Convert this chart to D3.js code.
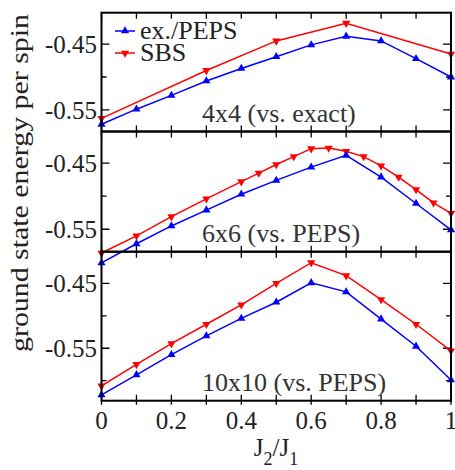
<!DOCTYPE html>
<html>
<head>
<meta charset="utf-8">
<script src="https://cdn.jsdelivr.net/npm/d3@7"></script>
<style>
  body { margin: 0; background: #fff; }
  svg { display: block; }
  svg text { font-family: "Liberation Serif", "Times New Roman", Times, serif; }
</style>
</head>
<body>
<div id="chart"></div>
<script>
const width = 455;
const height = 470;

// J2/J1 values
const jGrid = [0, 0.1, 0.2, 0.3, 0.4, 0.5, 0.6, 0.7, 0.8, 0.9, 1];
const jSbs4 = [0, 0.3, 0.5, 0.7, 1];
const jSbs6 = [0, 0.1, 0.2, 0.3, 0.4, 0.45, 0.5, 0.55, 0.6, 0.65, 0.7, 0.75, 0.8, 0.85, 0.9, 0.95, 1];

// ground state energy per spin
const peps4 = [-0.572, -0.549, -0.528, -0.506, -0.487, -0.469, -0.451, -0.438, -0.445, -0.472, -0.500];
const sbs4 = [-0.563, -0.490, -0.445, -0.418, -0.465];
const peps6 = [-0.601, -0.572, -0.545, -0.521, -0.497, -0.476, -0.456, -0.438, -0.471, -0.511, -0.551];
const sbs6 = [-0.586, -0.560, -0.531, -0.504, -0.478, -0.465, -0.452, -0.440, -0.428, -0.427, -0.432, -0.440, -0.454, -0.471, -0.490, -0.510, -0.526];
const peps10 = [-0.622, -0.591, -0.560, -0.531, -0.504, -0.479, -0.449, -0.463, -0.505, -0.547, -0.599];
const sbs10 = [-0.608, -0.575, -0.543, -0.513, -0.483, -0.450, -0.418, -0.438, -0.475, -0.513, -0.554];

const panelLabels = ["4x4 (vs. exact)", "6x6 (vs. PEPS)", "10x10 (vs. PEPS)"];
const panelDomains = [[-0.583, -0.402], [-0.584, -0.402], [-0.631, -0.401]];
const xTicks = [0, 0.2, 0.4, 0.6, 0.8, 1];
const yMajor = [-0.45, -0.55];
const yMinor = [-0.40, -0.50, -0.60];

const colors = { peps: "#0000ff", sbs: "#ff0000" };

const zip = (xs, ys) => xs.map((x, i) => ({ x, y: ys[i] }));

const panels = [
  { peps: zip(jGrid, peps4), sbs: zip(jSbs4, sbs4) },
  { peps: zip(jGrid, peps6), sbs: zip(jSbs6, sbs6) },
  { peps: zip(jGrid, peps10), sbs: zip(jGrid, sbs10) }
];
const panelPix = [[12.7, 131.5], [131.5, 251.7], [251.7, 400.7]];

const svg = d3.select("#chart")
  .append("svg")
  .attr("width", width)
  .attr("height", height);

const x = d3.scaleLinear().domain([0, 1]).range([101.5, 451]);

const upTri = d3.symbol(d3.symbolTriangle, 29)();

panels.forEach((p, i) => {
  const [top, bottom] = panelPix[i];
  const y = d3.scaleLinear().domain(panelDomains[i]).range([bottom, top]);
  const g = svg.append("g");

  // x ticks, inward from top and bottom
  g.selectAll(".xt")
    .data(d3.range(0, 11).map(d => d / 10))
    .join("path")
    .attr("stroke", "#000")
    .attr("stroke-width", 1.3)
    .attr("d", d => `M${x(d)},${top}v6M${x(d)},${bottom}v${i === 2 ? 4 : 0}V${bottom - 6}`);

  // y ticks, both sides
  g.selectAll(".ytm")
    .data(yMajor)
    .join("path")
    .attr("stroke", "#000")
    .attr("stroke-width", 1.3)
    .attr("d", d => `M${x(0)},${y(d)}h8M${x(1)},${y(d)}h-8`);

  g.selectAll(".ytn")
    .data(yMinor.filter(d => y(d) > top + 2 && y(d) < bottom - 2))
    .join("path")
    .attr("stroke", "#000")
    .attr("stroke-width", 1.3)
    .attr("d", d => `M${x(0)},${y(d)}h5M${x(1)},${y(d)}h-5`);

  g.selectAll(".ylab")
    .data(yMajor)
    .join("text")
    .attr("x", 97)
    .attr("y", d => y(d))
    .attr("dy", "0.35em")
    .attr("text-anchor", "end")
    .attr("font-size", 25)
    .attr("fill", "#222")
    .text(d => d.toFixed(2));

  g.append("text")
    .attr("x", 202)
    .attr("y", bottom - 10)
    .attr("font-size", 26)
    .attr("fill", "#333")
    .text(panelLabels[i]);

  const line = d3.line().x(d => x(d.x)).y(d => y(d.y));

  ["sbs", "peps"].forEach(key => {
    g.append("path")
      .datum(p[key])
      .attr("fill", "none")
      .attr("stroke", colors[key])
      .attr("stroke-width", 1.5)
      .attr("d", line);

    g.selectAll(".m-" + key)
      .data(p[key])
      .join("path")
      .attr("fill", colors[key])
      .attr("d", upTri)
      .attr("transform", d => `translate(${x(d.x)},${y(d.y)})` + (key === "sbs" ? " rotate(180)" : ""));
  });

  g.append("rect")
    .attr("x", x(0))
    .attr("y", top)
    .attr("width", x(1) - x(0))
    .attr("height", bottom - top)
    .attr("fill", "none")
    .attr("stroke", "#000")
    .attr("stroke-width", 2);
});

// x tick labels
svg.selectAll(".xlab")
  .data(xTicks)
  .join("text")
  .attr("x", d => x(d))
  .attr("y", 429)
  .attr("text-anchor", "middle")
  .attr("font-size", 25)
  .attr("fill", "#222")
  .text(d => d === 0 || d === 1 ? d : d.toFixed(1));

// axis titles
const xTitle = svg.append("text")
  .attr("x", 276)
  .attr("y", 456)
  .attr("text-anchor", "middle")
  .attr("font-size", 25)
  .attr("fill", "#222");
xTitle.append("tspan").text("J");
xTitle.append("tspan").attr("dy", 9).attr("font-size", 18).text("2");
xTitle.append("tspan").attr("dy", -9).text("/J");
xTitle.append("tspan").attr("dy", 9).attr("font-size", 18).text("1");

svg.append("text")
  .attr("transform", "translate(28,183) rotate(-90)")
  .attr("text-anchor", "middle")
  .attr("font-size", 25)
  .attr("textLength", 338)
  .attr("lengthAdjust", "spacingAndGlyphs")
  .attr("fill", "#222")
  .text("ground state energy per spin");

// legend
const legendItems = [
  { key: "peps", label: "ex./PEPS", y: 31, rot: "" },
  { key: "sbs", label: "SBS", y: 53, rot: " rotate(180)" }
];
const legend = svg.selectAll(".legend")
  .data(legendItems)
  .join("g")
  .attr("transform", d => `translate(115,${d.y})`);

legend.append("line")
  .attr("x2", 20)
  .attr("stroke", d => colors[d.key])
  .attr("stroke-width", 1.5);

legend.append("path")
  .attr("d", upTri)
  .attr("fill", d => colors[d.key])
  .attr("transform", d => "translate(10,0)" + d.rot);

legend.append("text")
  .attr("x", 25)
  .attr("y", 8)
  .attr("font-size", 26)
  .attr("fill", "#222")
  .text(d => d.label);
</script>
</body>
</html>
